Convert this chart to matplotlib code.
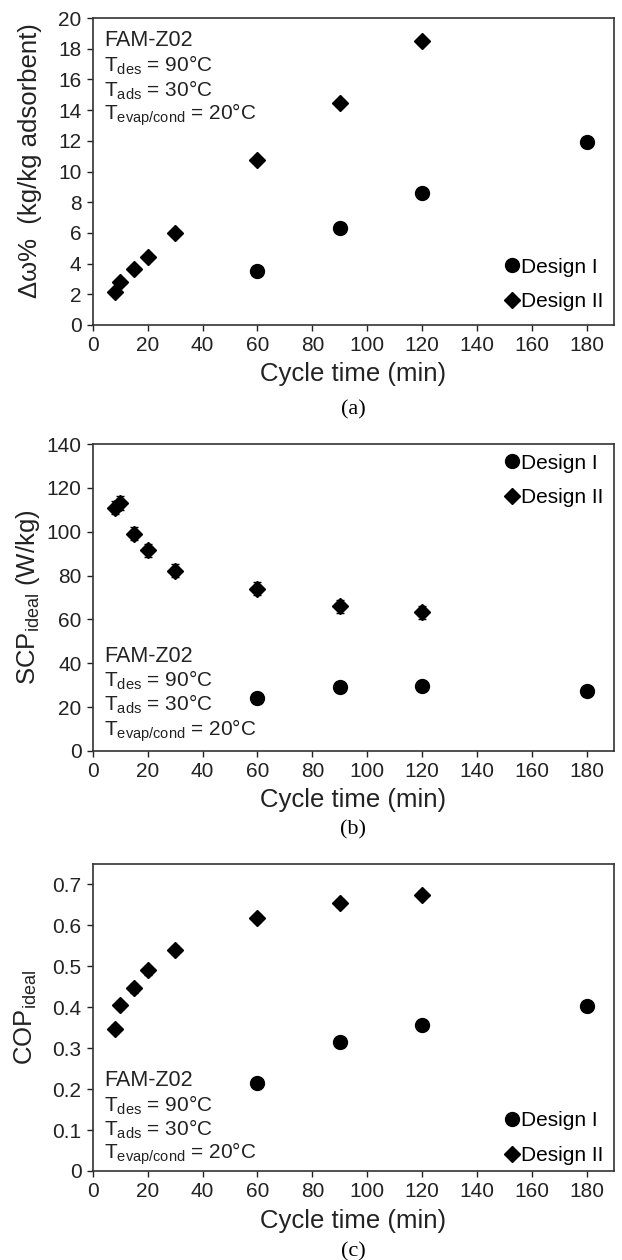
import matplotlib
matplotlib.use("Agg")
import matplotlib.pyplot as plt

plt.rcParams["font.family"] = ["Liberation Sans", "DejaVu Sans"]
plt.rcParams["mathtext.fontset"] = "custom"
plt.rcParams["mathtext.rm"] = "Liberation Sans"
plt.rcParams["mathtext.it"] = "Liberation Sans:italic"

# data
t_design1 = [60, 90, 120, 180]
t_design2 = [8, 10, 15, 20, 30, 60, 90, 120]

dw_design1 = [3.5, 6.3, 8.6, 11.9]
dw_design2 = [2.15, 2.77, 3.62, 4.43, 6.02, 10.78, 14.45, 18.5]

scp_design1 = [24.0, 29.2, 29.6, 27.4]
scp_design2 = [111.0, 113.2, 99.0, 91.6, 82.3, 74.0, 66.0, 63.3]
scp_err2 = [3.0, 3.2, 3.0, 3.0, 3.0, 3.0, 3.0, 3.0]

cop_design1 = [0.216, 0.316, 0.356, 0.402]
cop_design2 = [0.346, 0.405, 0.446, 0.490, 0.540, 0.619, 0.655, 0.675]
cop_err2 = [0.01, 0.01, 0.01, 0.01, 0.01, 0.01, 0.01, 0.01]

xticks = [0, 20, 40, 60, 80, 100, 120, 140, 160, 180]

info_lines = [
    "FAM-Z02",
    r"T$_{\mathregular{des}}$ = 90°C",
    r"T$_{\mathregular{ads}}$ = 30°C",
    r"T$_{\mathregular{evap/cond}}$ = 20°C",
]

W, H = 622, 1260
fig = plt.figure(figsize=(W / 100, H / 100), dpi=100)

left = 92.7 / W
width = (614.3 - 92.7) / W
height = 307 / H
bottoms = [1 - 325 / H, 1 - 751 / H, 1 - 1171 / H]

dark = "#222222"
label_size = 18.5


def style_axes(ax, ylim, yticks, yticklabels, xpad):
    ax.set_xlim(0, 190)
    ax.set_ylim(*ylim)
    ax.set_xticks(xticks)
    ax.set_yticks(yticks)
    ax.set_yticklabels(yticklabels)
    ax.tick_params(direction="out", length=4, width=1, labelsize=15,
                   colors=dark, pad=4)
    for sp in ax.spines.values():
        sp.set_color("#333333")
        sp.set_linewidth(1.2)
    ax.set_xlabel("Cycle time (min)", fontsize=label_size, color=dark,
                  labelpad=xpad)


def draw_points(ax, y1, y2, err2=None):
    ax.plot(t_design1, y1, "o", color="black", markersize=10,
            label="Design I", zorder=3)
    if err2 is not None:
        ax.errorbar(t_design2, y2, yerr=err2, fmt="none", ecolor="black",
                    elinewidth=1, capsize=3, capthick=1, zorder=2)
    ax.plot(t_design2, y2, "D", color="black", markersize=8.3,
            label="Design II", zorder=3)


def add_legend(ax, ycenter):
    ax.legend(loc="center left", bbox_to_anchor=(0.775, ycenter),
              frameon=False, fontsize=15, handlelength=0.6,
              handletextpad=0.15, labelspacing=0.75, borderaxespad=0)


def draw_info(ax, y_px_list):
    for i, (line, ypx) in enumerate(zip(info_lines, y_px_list)):
        ax.text(104 / W, 1 - ypx / H, line, transform=fig.transFigure,
                fontsize=15.5 if i == 0 else 15, color=dark,
                va="center", ha="left")


# (a)
ax1 = fig.add_axes([left, bottoms[0], width, height])
draw_points(ax1, dw_design1, dw_design2)
style_axes(ax1, (0, 20), range(0, 21, 2), [str(v) for v in range(0, 21, 2)], 5)
ax1.set_ylabel("Δω%  (kg/kg adsorbent)", fontsize=label_size, color=dark)
ax1.yaxis.set_label_coords(-0.097, 0.535)
add_legend(ax1, 0.132)
draw_info(ax1, [40, 65, 90, 115])
fig.text(left + width / 2, 1 - 410 / H, "(a)", family="Liberation Serif",
         fontsize=16, ha="center", va="center")

# (b)
ax2 = fig.add_axes([left, bottoms[1], width, height])
draw_points(ax2, scp_design1, scp_design2, scp_err2)
style_axes(ax2, (0, 140), range(0, 141, 20),
           [str(v) for v in range(0, 141, 20)], 5)
ax2.set_ylabel(r"SCP$_{\mathregular{ideal}}$ (W/kg)", fontsize=label_size,
               color=dark, labelpad=3)
add_legend(ax2, 0.881)
draw_info(ax2, [656, 680, 704, 731])
fig.text(left + width / 2, 1 - 830 / H, "(b)", family="Liberation Serif",
         fontsize=16, ha="center", va="center")

# (c)
ax3 = fig.add_axes([left, bottoms[2], width, height])
draw_points(ax3, cop_design1, cop_design2, cop_err2)
cticks = [0, 0.1, 0.2, 0.3, 0.4, 0.5, 0.6, 0.7]
style_axes(ax3, (0, 0.75), cticks, ["0"] + [f"{v:.1f}" for v in cticks[1:]], 6)
ax3.set_ylabel(r"COP$_{\mathregular{ideal}}$", fontsize=label_size,
               color=dark, labelpad=10)
add_legend(ax3, 0.107)
draw_info(ax3, [1080, 1105, 1129, 1154])
fig.text(left + width / 2, 1 - 1252 / H, "(c)", family="Liberation Serif",
         fontsize=16, ha="center", va="center")

fig.savefig("out.png", dpi=100)
